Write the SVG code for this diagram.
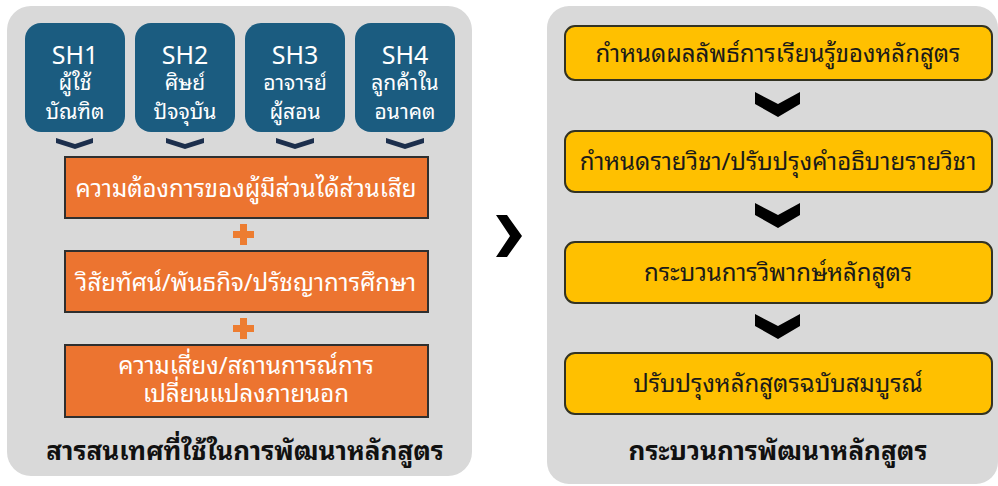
<svg xmlns="http://www.w3.org/2000/svg" width="998" height="486" viewBox="0 0 998 486">
<style>
.panel{fill:#d9d9d9}
.sh{fill:#1b5c80}
.shT{fill:#ffffff;font-family:"Noto Sans Thai Looped","Noto Sans Thai","Noto Sans",Tahoma,sans-serif;text-anchor:middle}
.org{fill:#ec7430;stroke:#2f2f2f;stroke-width:2}
.orgT{fill:#ffffff;font-family:"Noto Sans Thai Looped","Noto Sans Thai","Noto Sans",Tahoma,sans-serif;font-size:24px;text-anchor:middle}
.yel{fill:#ffc000;stroke:#333322;stroke-width:2}
.yelT{fill:#1a1a1a;font-family:"Noto Sans Thai Looped","Noto Sans Thai","Noto Sans",Tahoma,sans-serif;font-size:24px;text-anchor:middle}
.title{fill:#111111;font-family:"Noto Sans Thai Looped","Noto Sans Thai","Noto Sans",Tahoma,sans-serif;font-size:26px;font-weight:bold;text-anchor:middle}
.navy{fill:#1c2f4d}
.plus{fill:#ed7d31}
.blk{fill:#000000}
</style>
<rect class="panel" x="7" y="6" width="465" height="470" rx="24"/>
<rect class="panel" x="547" y="6" width="451" height="478" rx="22"/>

<g id="sh1"><rect class="sh" x="25" y="23" width="100" height="109" rx="16"/>
<text class="shT" x="75" y="64" font-size="25">SH1</text>
<text class="shT" x="75" y="90" font-size="21">ผู้ใช้</text>
<text class="shT" x="75" y="119" font-size="21">บัณฑิต</text></g>
<g id="sh2"><rect class="sh" x="135" y="23" width="100" height="109" rx="16"/>
<text class="shT" x="185" y="64" font-size="25">SH2</text>
<text class="shT" x="185" y="90" font-size="21">ศิษย์</text>
<text class="shT" x="185" y="119" font-size="21">ปัจจุบัน</text></g>
<g id="sh3"><rect class="sh" x="245" y="23" width="100" height="109" rx="16"/>
<text class="shT" x="295" y="64" font-size="25">SH3</text>
<text class="shT" x="295" y="90" font-size="21">อาจารย์</text>
<text class="shT" x="295" y="119" font-size="21">ผู้สอน</text></g>
<g id="sh4"><rect class="sh" x="355" y="23" width="100" height="109" rx="16"/>
<text class="shT" x="405" y="64" font-size="25">SH4</text>
<text class="shT" x="405" y="90" font-size="21">ลูกค้าใน</text>
<text class="shT" x="405" y="119" font-size="21">อนาคต</text></g>

<g id="need"><rect class="org" x="65" y="157" width="363" height="61"/>
<text class="orgT" x="246" y="197">ความต้องการของผู้มีส่วนได้ส่วนเสีย</text></g>
<g id="vision"><rect class="org" x="65" y="251" width="363" height="61"/>
<text class="orgT" x="246" y="291">วิสัยทัศน์/พันธกิจ/ปรัชญาการศึกษา</text></g>
<g id="risk"><rect class="org" x="65" y="345" width="363" height="72"/>
<text class="orgT" x="246" y="374">ความเสี่ยง/สถานการณ์การ</text>
<text class="orgT" x="246" y="402">เปลี่ยนแปลงภายนอก</text></g>

<g id="title-left"><text class="title" x="245" y="460">สารสนเทศที่ใช้ในการพัฒนาหลักสูตร</text></g>

<g id="step1"><rect class="yel" x="565" y="26" width="427" height="54" rx="10"/>
<text class="yelT" x="778" y="62">กำหนดผลลัพธ์การเรียนรู้ของหลักสูตร</text></g>
<g id="step2"><rect class="yel" x="565" y="131" width="427" height="61" rx="10"/>
<text class="yelT" x="778" y="170">กำหนดรายวิชา/ปรับปรุงคำอธิบายรายวิชา</text></g>
<g id="step3"><rect class="yel" x="565" y="242" width="427" height="61" rx="10"/>
<text class="yelT" x="778" y="281">กระบวนการวิพากษ์หลักสูตร</text></g>
<g id="step4"><rect class="yel" x="565" y="353" width="427" height="61" rx="10"/>
<text class="yelT" x="778" y="392">ปรับปรุงหลักสูตรฉบับสมบูรณ์</text></g>

<g id="title-right"><text class="title" x="778" y="460">กระบวนการพัฒนาหลักสูตร</text></g>

<g id="connectors">
<polygon class="navy" points="56,138 75,144 93,138 93,143 75,149 56,143"/>
<polygon class="navy" points="166,138 185,144 204,138 204,143 185,149 166,143"/>
<polygon class="navy" points="276,138 295,144 314,138 314,143 295,149 276,143"/>
<polygon class="navy" points="386,138 405,144 424,138 424,143 405,149 386,143"/>
<path class="plus" d="M240,224h7v7h7v7h-7v7h-7v-7h-7v-7h7z"/>
<path class="plus" d="M240,318h7v7h7v7h-7v7h-7v-7h-7v-7h7z"/>
<polygon class="blk" points="755,92 778,104 800,92 800,104 778,117 755,104"/>
<polygon class="blk" points="755,203 778,215 800,203 800,215 778,228 755,215"/>
<polygon class="blk" points="755,314 778,326 800,314 800,326 778,339 755,326"/>
<polygon class="blk" points="496,215 507,215 522,236 507,257 496,257 510,236"/>
</g>
</svg>
